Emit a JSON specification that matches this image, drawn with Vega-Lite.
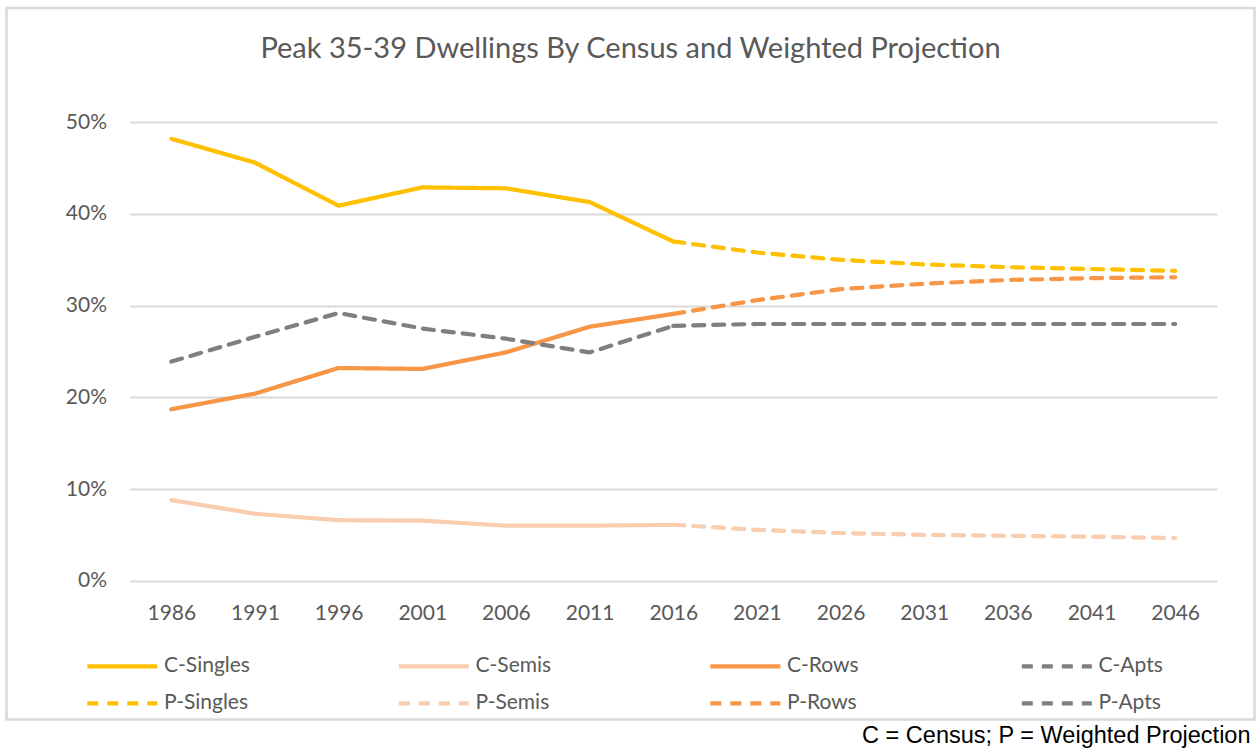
{
  "$schema": "https://vega.github.io/schema/vega-lite/v6.json",
  "width": 1248,
  "height": 711.5,
  "autosize": {"type": "none"},
  "padding": {"left": 6.5, "top": 8, "right": 4.5, "bottom": 31.5},
  "background": "white",
  "title": {
    "text": "Peak 35-39 Dwellings By Census and Weighted Projection",
    "font": "Lato",
    "fontSize": 29,
    "fontWeight": "normal",
    "color": "#595959",
    "anchor": "middle",
    "frame": "group",
    "baseline": "alphabetic",
    "offset": -78.5
  },
  "config": {
    "view": {"stroke": "#D9D9D9", "strokeWidth": 2.5},
    "font": "Lato"
  },
  "data": {
    "values": [
      {"year": 1986, "s": "C-Singles", "v": 0.482},
      {"year": 1991, "s": "C-Singles", "v": 0.456},
      {"year": 1996, "s": "C-Singles", "v": 0.409},
      {"year": 2001, "s": "C-Singles", "v": 0.429},
      {"year": 2006, "s": "C-Singles", "v": 0.428},
      {"year": 2011, "s": "C-Singles", "v": 0.413},
      {"year": 2016, "s": "C-Singles", "v": 0.370},
      {"year": 1986, "s": "C-Semis", "v": 0.088},
      {"year": 1991, "s": "C-Semis", "v": 0.073},
      {"year": 1996, "s": "C-Semis", "v": 0.066},
      {"year": 2001, "s": "C-Semis", "v": 0.0655},
      {"year": 2006, "s": "C-Semis", "v": 0.060},
      {"year": 2011, "s": "C-Semis", "v": 0.060},
      {"year": 2016, "s": "C-Semis", "v": 0.061},
      {"year": 1986, "s": "C-Rows", "v": 0.187},
      {"year": 1991, "s": "C-Rows", "v": 0.204},
      {"year": 1996, "s": "C-Rows", "v": 0.232},
      {"year": 2001, "s": "C-Rows", "v": 0.231},
      {"year": 2006, "s": "C-Rows", "v": 0.249},
      {"year": 2011, "s": "C-Rows", "v": 0.277},
      {"year": 2016, "s": "C-Rows", "v": 0.291},
      {"year": 1986, "s": "C-Apts", "v": 0.239},
      {"year": 1991, "s": "C-Apts", "v": 0.266},
      {"year": 1996, "s": "C-Apts", "v": 0.292},
      {"year": 2001, "s": "C-Apts", "v": 0.275},
      {"year": 2006, "s": "C-Apts", "v": 0.264},
      {"year": 2011, "s": "C-Apts", "v": 0.249},
      {"year": 2016, "s": "C-Apts", "v": 0.278},
      {"year": 2016, "s": "P-Singles", "v": 0.370},
      {"year": 2021, "s": "P-Singles", "v": 0.358},
      {"year": 2026, "s": "P-Singles", "v": 0.350},
      {"year": 2031, "s": "P-Singles", "v": 0.345},
      {"year": 2036, "s": "P-Singles", "v": 0.342},
      {"year": 2041, "s": "P-Singles", "v": 0.340},
      {"year": 2046, "s": "P-Singles", "v": 0.338},
      {"year": 2016, "s": "P-Semis", "v": 0.061},
      {"year": 2021, "s": "P-Semis", "v": 0.0555},
      {"year": 2026, "s": "P-Semis", "v": 0.052},
      {"year": 2031, "s": "P-Semis", "v": 0.050},
      {"year": 2036, "s": "P-Semis", "v": 0.049},
      {"year": 2041, "s": "P-Semis", "v": 0.048},
      {"year": 2046, "s": "P-Semis", "v": 0.0465},
      {"year": 2016, "s": "P-Rows", "v": 0.291},
      {"year": 2021, "s": "P-Rows", "v": 0.306},
      {"year": 2026, "s": "P-Rows", "v": 0.318},
      {"year": 2031, "s": "P-Rows", "v": 0.324},
      {"year": 2036, "s": "P-Rows", "v": 0.328},
      {"year": 2041, "s": "P-Rows", "v": 0.330},
      {"year": 2046, "s": "P-Rows", "v": 0.331},
      {"year": 2016, "s": "P-Apts", "v": 0.278},
      {"year": 2021, "s": "P-Apts", "v": 0.280},
      {"year": 2026, "s": "P-Apts", "v": 0.280},
      {"year": 2031, "s": "P-Apts", "v": 0.280},
      {"year": 2036, "s": "P-Apts", "v": 0.280},
      {"year": 2041, "s": "P-Apts", "v": 0.280},
      {"year": 2046, "s": "P-Apts", "v": 0.280}
    ]
  },
  "mark": {"type": "line", "strokeWidth": 4.2, "strokeCap": "round", "strokeJoin": "round"},
  "encoding": {
    "x": {
      "field": "year",
      "type": "quantitative",
      "scale": {"domain": [1983.5, 2048.5], "range": [123, 1210.5], "nice": false, "zero": false},
      "axis": {
        "values": [1986, 1991, 1996, 2001, 2006, 2011, 2016, 2021, 2026, 2031, 2036, 2041, 2046],
        "format": "d",
        "offset": -138.8,
        "domain": false,
        "ticks": false,
        "tickSize": 0,
        "grid": false,
        "labelFont": "Lato",
        "labelFontSize": 21,
        "labelColor": "#595959",
        "labelBaseline": "alphabetic",
        "labelPadding": 39,
        "labelFlush": false,
        "title": "C = Census; P = Weighted Projection",
        "titleFont": "Liberation Sans",
        "titleFontSize": 23.5,
        "titleFontWeight": "normal",
        "titleColor": "black",
        "titleAlign": "right",
        "titleAnchor": "end",
        "titleBaseline": "alphabetic",
        "titleX": 1243.5,
        "titleY": 161.3
      }
    },
    "y": {
      "field": "v",
      "type": "quantitative",
      "scale": {"domain": [0, 0.5], "range": [572.7, 114.3], "nice": false},
      "axis": {
        "values": [0, 0.1, 0.2, 0.3, 0.4, 0.5],
        "format": ".0%",
        "offset": -123,
        "domain": false,
        "ticks": false,
        "tickSize": 0,
        "grid": true,
        "gridColor": "#D9D9D9",
        "gridWidth": 1.8,
        "labelFont": "Lato",
        "labelFontSize": 21,
        "labelColor": "#595959",
        "labelPadding": 23,
        "title": null
      }
    },
    "color": {
      "field": "s",
      "type": "nominal",
      "scale": {
        "domain": ["C-Singles", "C-Semis", "C-Rows", "C-Apts", "P-Singles", "P-Semis", "P-Rows", "P-Apts"],
        "range": ["#FFC000", "#F9CDAE", "#F79646", "#7F7F7F", "#FFC000", "#F9CDAE", "#F79646", "#7F7F7F"]
      },
      "legend": {
        "orient": "none",
        "direction": "horizontal",
        "legendX": 78.5,
        "legendY": 644.3,
        "columns": 4,
        "gridAlign": "all",
        "columnPadding": 139.5,
        "rowPadding": 13,
        "padding": 0,
        "title": null,
        "symbolType": "M-1,0H5",
        "symbolSize": 544.4,
        "symbolStrokeWidth": 4.2,
        "symbolFillColor": "transparent",
        "labelFont": "Lato",
        "labelFontSize": 21,
        "labelColor": "#595959",
        "labelOffset": 51,
        "labelLimit": 300
      }
    },
    "strokeDash": {
      "field": "s",
      "type": "nominal",
      "scale": {
        "domain": ["C-Singles", "C-Semis", "C-Rows", "C-Apts", "P-Singles", "P-Semis", "P-Rows", "P-Apts"],
        "range": [[1, 0], [1, 0], [1, 0], [11, 9], [11, 9], [11, 9], [11, 9], [11, 9]]
      }
    }
  }
}
